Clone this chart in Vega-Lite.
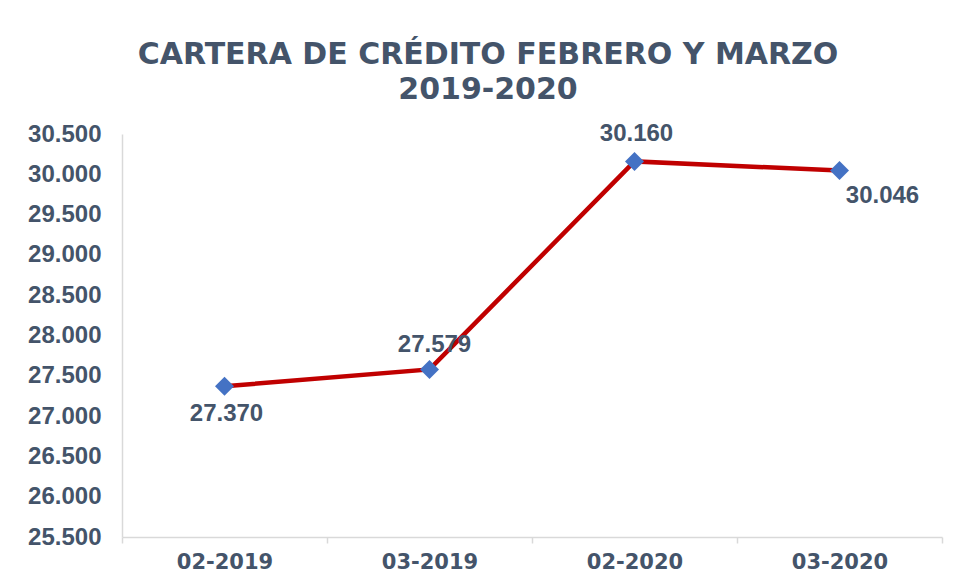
{
  "$schema": "https://vega.github.io/schema/vega-lite/v6.json",
  "width": 820,
  "height": 403,
  "autosize": {"type": "none"},
  "padding": {"left": 122, "top": 134, "right": 15, "bottom": 46},
  "background": "white",
  "config": {
    "locale": {"number": {"decimal": ",", "thousands": ".", "grouping": [3], "currency": ["$", ""]}},
    "view": {"stroke": null}
  },
  "title": {
    "text": ["CARTERA DE CRÉDITO FEBRERO Y MARZO", "2019-2020"],
    "font": "DejaVu Sans",
    "fontSize": 30,
    "fontWeight": "bold",
    "color": "#44546A",
    "lineHeight": 35,
    "anchor": "middle",
    "dx": -44,
    "offset": 17
  },
  "data": {
    "values": [
      {"periodo": "02-2019", "valor": 27370},
      {"periodo": "03-2019", "valor": 27579},
      {"periodo": "02-2020", "valor": 30160},
      {"periodo": "03-2020", "valor": 30046}
    ]
  },
  "encoding": {
    "x": {
      "field": "periodo",
      "type": "nominal",
      "sort": null,
      "scale": {"type": "band", "paddingInner": 0, "paddingOuter": 0},
      "axis": {
        "title": null,
        "labelAngle": 0,
        "labelFont": "DejaVu Sans",
        "labelFontSize": 21,
        "labelFontWeight": "bold",
        "labelColor": "#44546A",
        "labelPadding": 8,
        "tickBand": "extent",
        "tickSize": 6,
        "tickColor": "#D9D9D9",
        "tickWidth": 1.5,
        "domainColor": "#D9D9D9",
        "domainWidth": 1.5,
        "grid": false
      }
    },
    "y": {
      "field": "valor",
      "type": "quantitative",
      "scale": {"domain": [25500, 30500], "zero": false, "nice": false},
      "axis": {
        "title": null,
        "values": [25500, 26000, 26500, 27000, 27500, 28000, 28500, 29000, 29500, 30000, 30500],
        "format": ",.0f",
        "labelFont": "Liberation Sans",
        "labelFontSize": 24,
        "labelFontWeight": "bold",
        "labelColor": "#44546A",
        "labelPadding": 21,
        "ticks": false,
        "domainColor": "#D9D9D9",
        "domainWidth": 1.5,
        "grid": false
      }
    }
  },
  "layer": [
    {"mark": {"type": "line", "color": "#C00000", "strokeWidth": 4.5}},
    {"mark": {"type": "point", "shape": "diamond", "filled": true, "color": "#4472C4", "size": 360, "opacity": 1}},
    {
      "transform": [{"filter": "datum.periodo == '02-2019'"}],
      "mark": {"type": "text", "font": "Liberation Sans", "fontSize": 24, "fontWeight": "bold", "color": "#44546A", "baseline": "middle", "dx": 2, "dy": 28},
      "encoding": {"text": {"field": "valor", "type": "quantitative", "format": ",.0f"}}
    },
    {
      "transform": [{"filter": "datum.periodo == '03-2019'"}],
      "mark": {"type": "text", "font": "Liberation Sans", "fontSize": 24, "fontWeight": "bold", "color": "#44546A", "baseline": "middle", "dx": 5, "dy": -24},
      "encoding": {"text": {"field": "valor", "type": "quantitative", "format": ",.0f"}}
    },
    {
      "transform": [{"filter": "datum.periodo == '02-2020'"}],
      "mark": {"type": "text", "font": "Liberation Sans", "fontSize": 24, "fontWeight": "bold", "color": "#44546A", "baseline": "middle", "dx": 2, "dy": -27},
      "encoding": {"text": {"field": "valor", "type": "quantitative", "format": ",.0f"}}
    },
    {
      "transform": [{"filter": "datum.periodo == '03-2020'"}],
      "mark": {"type": "text", "font": "Liberation Sans", "fontSize": 24, "fontWeight": "bold", "color": "#44546A", "baseline": "middle", "dx": 43, "dy": 25},
      "encoding": {"text": {"field": "valor", "type": "quantitative", "format": ",.0f"}}
    }
  ]
}
